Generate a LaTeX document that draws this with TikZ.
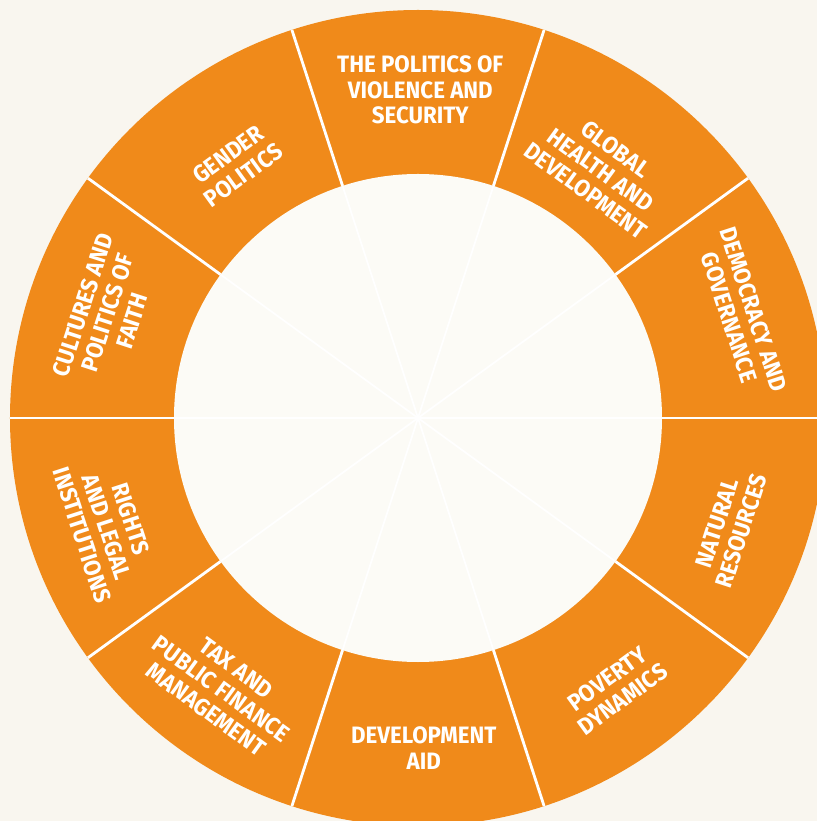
\documentclass[tikz,border=0pt]{standalone}
\usepackage{fontspec}
\newfontfamily\segfont{Fira Sans}[FakeStretch=0.94]
\usepackage{tikz}
\definecolor{ringorange}{RGB}{240,138,26}
\definecolor{pagecream}{RGB}{249,246,239}
\definecolor{hubcream}{RGB}{252,251,246}
\tikzset{
  seglabel/.style={
    text=white, align=center, inner sep=0pt,
    font=\segfont\bfseries\fontsize{13.5}{14.6}\selectfont
  },
  spoke/.style={white, line width=1pt},
  divider/.style={white, line width=1.6pt},
}

\begin{document}
\begin{tikzpicture}[x=0.02cm, y=0.02cm]
  \fill[pagecream] (-418,-403) rectangle (399,418);
  \useasboundingbox (-418,-403) rectangle (399,418);
  \clip (-418,-403) rectangle (399,418);

  % ring and hub
  \fill[ringorange] (0,0) circle[radius=408];
  \fill[hubcream] (0,0) circle[radius=244];

  % spokes through the hub, heavier across the ring
  \foreach \a in {0,36,...,324} {
    \draw[spoke]   (0,0) -- (\a:244);
    \draw[divider] (\a:244) -- (\a:408);
  }

  \node (violence)  [seglabel]               at (89.6:328)  {THE POLITICS OF\\VIOLENCE AND\\SECURITY};
  \node (health)    [seglabel, rotate=-36]   at (53.6:308)  {GLOBAL\\HEALTH AND\\DEVELOPMENT};
  \node (democracy) [seglabel, rotate=-72]   at (17.9:340)  {DEMOCRACY AND\\GOVERNANCE};
  \node (resources) [seglabel, rotate=72]    at (-19.3:330) {NATURAL\\RESOURCES};
  \node (poverty)   [seglabel, rotate=36]    at (-54:335)   {POVERTY\\DYNAMICS};
  \node (aid)       [seglabel]               at (-89:330)   {DEVELOPMENT\\AID};
  \node (tax)       [seglabel, rotate=-36]   at (-126:335)  {TAX AND\\PUBLIC FINANCE\\MANAGEMENT};
  \node (rights)    [seglabel, rotate=-72]   at (-160.7:330) {RIGHTS\\AND LEGAL\\INSTITUTIONS};
  \node (cultures)  [seglabel, rotate=72]    at (161.3:328) {CULTURES AND\\POLITICS OF\\FAITH};
  \node (gender)    [seglabel, rotate=36]    at (125.8:312) {GENDER\\POLITICS};
\end{tikzpicture}
\end{document}
